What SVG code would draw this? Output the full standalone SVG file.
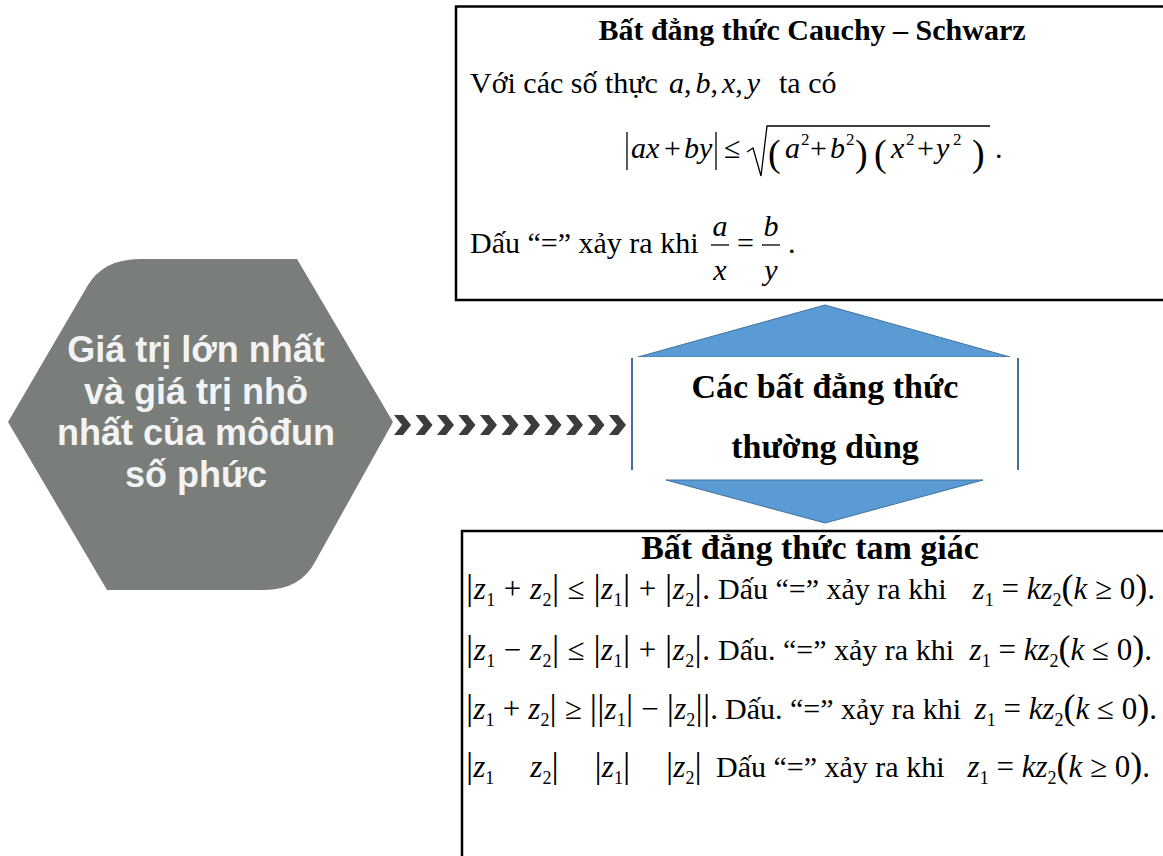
<svg xmlns="http://www.w3.org/2000/svg" width="1163" height="856" viewBox="0 0 1163 856">
<style>
.s{font-family:"Liberation Serif","Times New Roman",serif;font-size:30px;fill:#000}
.s31{font-family:"Liberation Serif","Times New Roman",serif;font-size:31px;fill:#000}
.bd{font-weight:bold}
.it{font-style:italic}
.sb{font-size:18px}
.sp{font-size:17px}
.pr{font-size:38px}
.br{font-size:36px}
.pq{font-size:36px}
.hx{font-family:"Liberation Sans",Arial,sans-serif;font-weight:bold;font-size:36px;fill:#f3f3f3;text-anchor:middle}
.box{fill:#fff;stroke:#000;stroke-width:2.5}
.ml{stroke:#000;stroke-width:1.3;fill:none}
.blue{fill:#5b9bd5;stroke:#41719c;stroke-width:1}
.bl{stroke:#41719c;stroke-width:2}
</style>
<defs>
<polygon id="chev" points="0,-10 9,-10 17,0 9,10 0,10 8,0" fill="#3c3c3c"/>
</defs>
<rect width="1163" height="856" fill="#fff"/>

<g id="hexagon">
<path d="M8,422 L88,285 Q104,259 140,259 L297,259 L393,422 L315,562 Q300,590 264,590 L107,590 Z" fill="#797e7a"/>
<text class="hx" x="196" y="362">Giá trị lớn nhất</text>
<text class="hx" x="196" y="404">và giá trị nhỏ</text>
<text class="hx" x="196" y="445">nhất của môđun</text>
<text class="hx" x="196" y="487">số phức</text>
</g>

<g id="connectors">
<use href="#chev" x="394" y="425"/>
<use href="#chev" x="415.5" y="425"/>
<use href="#chev" x="437" y="425"/>
<use href="#chev" x="458.5" y="425"/>
<use href="#chev" x="480" y="425"/>
<use href="#chev" x="501.5" y="425"/>
<use href="#chev" x="523" y="425"/>
<use href="#chev" x="544.5" y="425"/>
<use href="#chev" x="566" y="425"/>
<use href="#chev" x="587.5" y="425"/>
<use href="#chev" x="609" y="425"/>
</g>

<g id="cauchy">
<rect class="box" x="456" y="6.5" width="720" height="293.5"/>
<text class="s bd" x="812" y="40" text-anchor="middle">Bất đẳng thức Cauchy – Schwarz</text>
<text class="s" x="470" y="93">Với các số thực <tspan class="it" x="669">a</tspan>,<tspan class="it" dx="4">b</tspan>,<tspan class="it" dx="4">x</tspan>,<tspan class="it" dx="4">y</tspan><tspan x="779">ta có</tspan></text>
<line class="ml" x1="627" y1="132" x2="627" y2="170"/>
<line class="ml" x1="716" y1="132" x2="716" y2="170"/>
<text class="s it" x="631" y="158">ax</text>
<text class="s" x="664" y="158">+</text>
<text class="s it" x="684" y="158">by</text>
<text class="s" x="724" y="158">≤</text>
<path class="ml" d="M747,152 L753,148 L761,176 L767,126 L990,126"/>
<text class="s pr" x="768" y="166">(</text>
<text class="s it" x="785" y="158">a</text>
<text class="s sp" x="801" y="145">2</text>
<text class="s" x="810" y="158">+</text>
<text class="s it" x="830" y="158">b</text>
<text class="s sp" x="846" y="145">2</text>
<text class="s pr" x="855" y="166">)</text>
<text class="s pr" x="874" y="166">(</text>
<text class="s it" x="891" y="158">x</text>
<text class="s sp" x="906" y="145">2</text>
<text class="s" x="917" y="158">+</text>
<text class="s it" x="936" y="158">y</text>
<text class="s sp" x="953" y="145">2</text>
<text class="s pr" x="972" y="166">)</text>
<text class="s" x="995" y="158">.</text>
<text class="s" x="470" y="253">Dấu “=” xảy ra khi</text>
<text class="s it" x="720" y="236" text-anchor="middle">a</text>
<line class="ml" x1="711" y1="245" x2="729" y2="245"/>
<text class="s it" x="720" y="280" text-anchor="middle">x</text>
<text class="s" x="737" y="253">=</text>
<text class="s it" x="771" y="236" text-anchor="middle">b</text>
<line class="ml" x1="762" y1="245" x2="780" y2="245"/>
<text class="s it" x="771" y="280" text-anchor="middle">y</text>
<text class="s" x="788" y="253">.</text>
</g>

<g id="center">
<polygon class="blue" points="638,357 825,305 1010,357"/>
<rect x="632" y="357" width="386" height="113" fill="#fff"/>
<line class="bl" x1="632" y1="358" x2="632" y2="470"/>
<line class="bl" x1="1018" y1="358" x2="1018" y2="470"/>
<polygon class="blue" points="666,480 983,480 825,523"/>
<text class="s bd" x="825" y="398" text-anchor="middle" style="font-size:34px">Các bất đẳng thức</text>
<text class="s bd" x="825" y="458" text-anchor="middle" style="font-size:34px">thường dùng</text>
</g>

<g id="triangle">
<rect class="box" x="462" y="531" width="720" height="340"/>
<text class="s31 bd" x="810" y="559" text-anchor="middle" style="font-size:34px">Bất đẳng thức tam giác</text>

<text class="s31" x="466" y="599" textLength="244" lengthAdjust="spacing"><tspan class="br">|</tspan><tspan class="it">z</tspan><tspan class="sb" dy="7">1</tspan><tspan dy="-7"> + </tspan><tspan class="it">z</tspan><tspan class="sb" dy="7">2</tspan><tspan class="br" dy="-7">|</tspan> ≤ <tspan class="br">|</tspan><tspan class="it">z</tspan><tspan class="sb" dy="7">1</tspan><tspan class="br" dy="-7">|</tspan> + <tspan class="br">|</tspan><tspan class="it">z</tspan><tspan class="sb" dy="7">2</tspan><tspan class="br" dy="-7">|</tspan>.</text>
<text class="s" x="718" y="599">Dấu “=” xảy ra khi</text>
<text class="s31" x="1155" y="599" text-anchor="end"><tspan class="it">z</tspan><tspan class="sb" dy="7">1</tspan><tspan dy="-7"> = </tspan><tspan class="it">kz</tspan><tspan class="sb" dy="7">2</tspan><tspan class="pq" dy="-7">(</tspan><tspan class="it">k</tspan> ≥ 0<tspan class="pq">)</tspan>.</text>

<text class="s31" x="466" y="660" textLength="244" lengthAdjust="spacing"><tspan class="br">|</tspan><tspan class="it">z</tspan><tspan class="sb" dy="7">1</tspan><tspan dy="-7"> − </tspan><tspan class="it">z</tspan><tspan class="sb" dy="7">2</tspan><tspan class="br" dy="-7">|</tspan> ≤ <tspan class="br">|</tspan><tspan class="it">z</tspan><tspan class="sb" dy="7">1</tspan><tspan class="br" dy="-7">|</tspan> + <tspan class="br">|</tspan><tspan class="it">z</tspan><tspan class="sb" dy="7">2</tspan><tspan class="br" dy="-7">|</tspan>.</text>
<text class="s" x="718" y="660">Dấu. “=” xảy ra khi</text>
<text class="s31" x="1152" y="660" text-anchor="end"><tspan class="it">z</tspan><tspan class="sb" dy="7">1</tspan><tspan dy="-7"> = </tspan><tspan class="it">kz</tspan><tspan class="sb" dy="7">2</tspan><tspan class="pq" dy="-7">(</tspan><tspan class="it">k</tspan> ≤ 0<tspan class="pq">)</tspan>.</text>

<text class="s31" x="466" y="719" textLength="252" lengthAdjust="spacing"><tspan class="br">|</tspan><tspan class="it">z</tspan><tspan class="sb" dy="7">1</tspan><tspan dy="-7"> + </tspan><tspan class="it">z</tspan><tspan class="sb" dy="7">2</tspan><tspan class="br" dy="-7">|</tspan> ≥ <tspan class="br">||</tspan><tspan class="it">z</tspan><tspan class="sb" dy="7">1</tspan><tspan class="br" dy="-7">|</tspan> − <tspan class="br">|</tspan><tspan class="it">z</tspan><tspan class="sb" dy="7">2</tspan><tspan class="br" dy="-7">||</tspan>.</text>
<text class="s" x="725" y="719">Dấu. “=” xảy ra khi</text>
<text class="s31" x="1157" y="719" text-anchor="end"><tspan class="it">z</tspan><tspan class="sb" dy="7">1</tspan><tspan dy="-7"> = </tspan><tspan class="it">kz</tspan><tspan class="sb" dy="7">2</tspan><tspan class="pq" dy="-7">(</tspan><tspan class="it">k</tspan> ≤ 0<tspan class="pq">)</tspan>.</text>

<text class="s31" x="466" y="777"><tspan class="br">|</tspan><tspan class="it">z</tspan><tspan class="sb" dy="7">1</tspan><tspan class="it" dy="-7" dx="36">z</tspan><tspan class="sb" dy="7">2</tspan><tspan class="br" dy="-7">|</tspan><tspan class="br" dx="36">|</tspan><tspan class="it">z</tspan><tspan class="sb" dy="7">1</tspan><tspan class="br" dy="-7">|</tspan><tspan class="br" dx="36">|</tspan><tspan class="it">z</tspan><tspan class="sb" dy="7">2</tspan><tspan class="br" dy="-7">|</tspan></text>
<text class="s" x="716" y="777">Dấu “=” xảy ra khi</text>
<text class="s31" x="1150" y="777" text-anchor="end"><tspan class="it">z</tspan><tspan class="sb" dy="7">1</tspan><tspan dy="-7"> = </tspan><tspan class="it">kz</tspan><tspan class="sb" dy="7">2</tspan><tspan class="pq" dy="-7">(</tspan><tspan class="it">k</tspan> ≥ 0<tspan class="pq">)</tspan>.</text>
</g>
</svg>
